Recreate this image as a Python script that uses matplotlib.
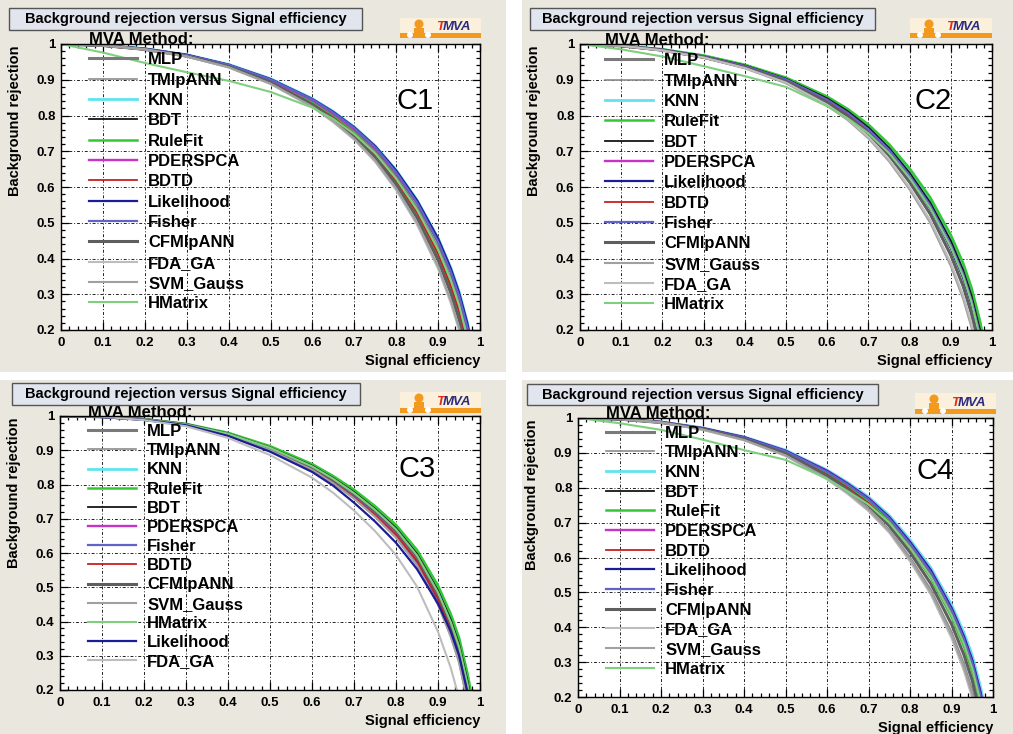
import matplotlib.pyplot as plt
from matplotlib.lines import Line2D
from matplotlib.patches import Rectangle, Ellipse
from matplotlib.ticker import MultipleLocator, FuncFormatter

plt.rcParams['font.family'] = ['Liberation Sans', 'DejaVu Sans']

W, H = 1013, 734

# signal efficiency points where the curves were read
eff = [0, .1, .2, .3, .4, .5, .6, .65, .7, .75, .8, .85, .9, .93, .95, .97, .99]

# background rejection, panel C1
c1_rej = {
    'MLP':        [1, .996, .986, .968, .940, .898, .839, .801, .756, .700, .628, .540, .428, .342, .272, .180, .060],
    'TMlpANN':    [1, .996, .985, .966, .936, .892, .829, .789, .741, .682, .606, .512, .394, .303, .228, .131, .004],
    'KNN':        [1, .996, .987, .970, .943, .903, .847, .811, .768, .715, .647, .563, .457, .375, .308, .221, .107],
    'BDT':        [1, .996, .986, .969, .942, .901, .844, .807, .763, .709, .639, .554, .445, .362, .294, .205, .088],
    'RuleFit':    [1, .996, .986, .967, .938, .895, .834, .795, .749, .691, .617, .526, .411, .322, .250, .155, .032],
    'PDERSPCA':   [1, .996, .986, .969, .941, .900, .843, .806, .763, .710, .641, .557, .449, .366, .297, .207, .090],
    'BDTD':       [1, .995, .984, .965, .936, .893, .832, .794, .748, .691, .618, .528, .413, .324, .252, .157, .034],
    'Likelihood': [1, .996, .987, .970, .942, .902, .846, .810, .767, .714, .646, .562, .456, .373, .305, .218, .104],
    'Fisher':     [1, .996, .986, .969, .942, .901, .845, .808, .765, .711, .641, .556, .447, .364, .296, .207, .090],
    'CFMlpANN':   [1, .996, .985, .966, .937, .893, .830, .790, .742, .683, .607, .514, .396, .305, .230, .133, .006],
    'FDA_GA':     [1, .996, .985, .965, .934, .888, .823, .781, .732, .670, .591, .494, .371, .276, .199, .098, 0],
    'SVM_Gauss':  [1, .996, .985, .965, .935, .889, .825, .784, .735, .674, .596, .500, .378, .284, .207, .106, 0],
    'HMatrix':    [1, .976, .947, .921, .897, .866, .822, .790, .748, .694, .623, .536, .425, .340, .270, .178, .060],
}

# panel C2
c2_rej = {
    'MLP':        [1, .995, .984, .965, .938, .900, .843, .806, .760, .702, .630, .545, .435, .352, .280, .185, .065],
    'TMlpANN':    [1, .995, .983, .963, .935, .895, .835, .796, .748, .687, .612, .522, .407, .320, .244, .144, .018],
    'KNN':        [1, .995, .985, .967, .941, .905, .851, .816, .772, .717, .649, .568, .463, .384, .316, .226, .112],
    'RuleFit':    [1, .995, .985, .968, .942, .906, .853, .818, .775, .720, .652, .571, .466, .387, .319, .229, .115],
    'BDT':        [1, .995, .984, .966, .940, .903, .848, .812, .767, .710, .640, .557, .450, .368, .298, .205, .088],
    'PDERSPCA':   [1, .995, .984, .965, .938, .900, .842, .805, .759, .701, .629, .544, .434, .351, .279, .184, .064],
    'Likelihood': [1, .995, .984, .964, .937, .899, .841, .803, .757, .699, .626, .540, .429, .346, .273, .177, .056],
    'BDTD':       [1, .994, .981, .961, .933, .896, .839, .802, .757, .700, .629, .545, .436, .354, .283, .189, .070],
    'Fisher':     [1, .995, .984, .965, .938, .901, .844, .807, .761, .704, .632, .548, .438, .356, .284, .190, .071],
    'CFMlpANN':   [1, .995, .983, .963, .935, .896, .836, .797, .750, .689, .614, .525, .410, .323, .247, .147, .021],
    'SVM_Gauss':  [1, .995, .982, .962, .932, .890, .827, .787, .736, .672, .593, .500, .379, .287, .208, .104, 0],
    'FDA_GA':     [1, .995, .982, .962, .933, .892, .830, .790, .740, .677, .599, .507, .388, .297, .219, .116, 0],
    'HMatrix':    [1, .985, .965, .938, .910, .880, .826, .792, .750, .695, .625, .541, .432, .350, .278, .183, .063],
}

# panel C3
c3_rej = {
    'MLP':        [1, .998, .990, .975, .947, .905, .850, .813, .770, .720, .662, .585, .475, .388, .315, .205, .070],
    'TMlpANN':    [1, .998, .990, .974, .944, .900, .843, .804, .759, .706, .645, .564, .449, .357, .281, .165, .024],
    'KNN':        [1, .998, .990, .976, .950, .910, .858, .822, .782, .734, .679, .606, .501, .419, .349, .245, .117],
    'RuleFit':    [1, .998, .991, .977, .951, .912, .860, .825, .785, .737, .682, .609, .505, .423, .353, .249, .121],
    'BDT':        [1, .998, .990, .976, .949, .908, .855, .819, .778, .729, .673, .598, .491, .407, .335, .228, .096],
    'PDERSPCA':   [1, .998, .990, .974, .945, .902, .846, .808, .764, .712, .653, .575, .463, .374, .300, .187, .050],
    'Fisher':     [1, .998, .990, .974, .945, .902, .845, .807, .763, .711, .651, .572, .459, .370, .295, .182, .045],
    'BDTD':       [1, .998, .989, .973, .943, .900, .844, .806, .762, .711, .653, .576, .466, .378, .304, .192, .055],
    'CFMlpANN':   [1, .998, .990, .975, .947, .906, .851, .815, .773, .723, .666, .590, .481, .395, .322, .212, .078],
    'SVM_Gauss':  [1, .998, .990, .974, .944, .900, .843, .804, .759, .706, .645, .564, .449, .357, .281, .165, .024],
    'HMatrix':    [1, .998, .990, .975, .948, .907, .853, .817, .775, .726, .669, .593, .485, .399, .327, .218, .085],
    'Likelihood': [1, .997, .989, .973, .942, .896, .837, .797, .747, .692, .630, .553, .452, .372, .302, .195, .065],
    'FDA_GA':     [1, .998, .988, .970, .936, .886, .820, .776, .724, .664, .594, .502, .370, .266, .178, .046, 0],
}

# panel C4
c4_rej = {
    'MLP':        [1, .997, .988, .970, .943, .903, .843, .805, .762, .706, .633, .548, .437, .353, .283, .188, .065],
    'TMlpANN':    [1, .997, .987, .967, .938, .894, .829, .788, .741, .680, .601, .509, .388, .297, .221, .118, 0],
    'KNN':        [1, .997, .989, .972, .946, .908, .851, .815, .774, .721, .651, .571, .465, .385, .319, .229, .112],
    'BDT':        [1, .997, .988, .970, .944, .905, .847, .810, .768, .713, .642, .560, .451, .369, .301, .208, .088],
    'RuleFit':    [1, .997, .988, .969, .942, .902, .841, .803, .759, .702, .628, .542, .430, .345, .274, .177, .052],
    'PDERSPCA':   [1, .997, .989, .971, .945, .906, .849, .812, .770, .716, .645, .564, .456, .374, .306, .214, .094],
    'BDTD':       [1, .996, .987, .968, .940, .899, .838, .800, .756, .700, .628, .545, .435, .352, .282, .187, .064],
    'Likelihood': [1, .997, .988, .971, .945, .906, .848, .811, .769, .715, .644, .563, .455, .373, .305, .213, .093],
    'Fisher':     [1, .997, .988, .970, .944, .905, .846, .809, .767, .712, .640, .558, .450, .367, .298, .205, .084],
    'CFMlpANN':   [1, .997, .987, .969, .940, .898, .835, .795, .750, .691, .615, .525, .409, .321, .247, .147, .018],
    'FDA_GA':     [1, .997, .987, .966, .936, .891, .824, .782, .733, .671, .589, .494, .369, .275, .197, .091, 0],
    'SVM_Gauss':  [1, .997, .987, .967, .937, .893, .827, .786, .737, .676, .595, .501, .378, .285, .208, .103, 0],
    'HMatrix':    [1, .985, .966, .938, .908, .880, .826, .790, .752, .700, .628, .545, .435, .352, .282, .186, .064],
}

panel_tags = ['C1', 'C2', 'C3', 'C4']
title_text = 'Background rejection versus Signal efficiency'

# colour, line width per method
style = {
    'MLP':        ('#7a7a7a', 2.2),
    'TMlpANN':    ('#8c8c8c', 1.2),
    'KNN':        ('#5fe3ee', 2.0),
    'BDT':        ('#151515', 1.3),
    'RuleFit':    ('#33c833', 1.8),
    'PDERSPCA':   ('#c832c8', 1.7),
    'BDTD':       ('#c82020', 1.3),
    'Likelihood': ('#1c1c96', 1.6),
    'Fisher':     ('#6262c8', 1.6),
    'CFMlpANN':   ('#5e5e5e', 2.2),
    'FDA_GA':     ('#bdbdbd', 1.5),
    'SVM_Gauss':  ('#a0a0a0', 1.5),
    'HMatrix':    ('#80cf80', 1.5),
}

# layout in pixels: panel bg, axes, title box, logo box (l, t, r, b); legend (x, top, spacing); tag centre
layout = [
    dict(bg=(0, 0, 506, 372), ax=(61, 44, 480, 330), tb=(9, 8, 362, 30), logo=(400, 18, 481, 38),
         leg=(89, 32, 0.32), tag=(415, 101)),
    dict(bg=(522, 0, 1013, 372), ax=(580, 44, 992, 330), tb=(530, 8, 875, 30), logo=(910, 18, 992, 38),
         leg=(605, 33, 0.32), tag=(933, 101)),
    dict(bg=(0, 380, 506, 734), ax=(60, 416, 480, 690), tb=(12, 383, 360, 405), logo=(400, 392, 481, 413),
         leg=(88, 405, 0.25), tag=(417, 469)),
    dict(bg=(522, 380, 1013, 734), ax=(578, 418, 993, 697), tb=(527, 384, 878, 405), logo=(915, 393, 996, 414),
         leg=(606, 406, 0.28), tag=(935, 471)),
]

BG = '#e9e7de'

fig = plt.figure(figsize=(W / 100, H / 100), dpi=100)


def fx(x):
    return x / W


def fy(y):
    return 1 - y / H


def rect(l, t, r, b, **kw):
    p = Rectangle((fx(l), fy(b)), (r - l) / W, (b - t) / H, transform=fig.transFigure, **kw)
    fig.patches.append(p)
    return p


def draw_logo(l, t, r, b):
    rect(l, t, r, b, facecolor='#fbf0dc', edgecolor='none', zorder=1)
    rect(l, b - 5, r, b, facecolor='#f29a1e', edgecolor='none', zorder=2)
    fig.patches.append(Ellipse((fx(l + 19), fy(t + 6)), 9 / W, 9 / H, transform=fig.transFigure,
                               facecolor='#f29a1e', edgecolor='none', zorder=2))
    rect(l + 14, t + 10, l + 24, b - 5, facecolor='#f29a1e', edgecolor='none', zorder=2)
    for dx in (10, 28):
        fig.patches.append(Ellipse((fx(l + dx), fy(b - 3)), 6 / W, 6 / H, transform=fig.transFigure,
                                   facecolor='white', edgecolor='none', zorder=3))
    fig.text(fx(l + 36), fy(b - 11), 'T', color='#e02a1a', fontsize=9.5, fontweight='bold',
             style='italic', ha='left', va='center')
    fig.text(fx(l + 43), fy(b - 11), 'MVA', color='#2b2b80', fontsize=9.5, fontweight='bold',
             style='italic', ha='left', va='center')


tick_fmt = FuncFormatter(lambda v, p: f'{round(v, 2):g}')

for data, tag, lay in zip([c1_rej, c2_rej, c3_rej, c4_rej], panel_tags, layout):
    rect(*lay['bg'], facecolor=BG, edgecolor='none', zorder=-5)

    l, t, r, b = lay['ax']
    ax = fig.add_axes([fx(l), fy(b), (r - l) / W, (b - t) / H])
    ax.set_facecolor('white')

    for name, rej in data.items():
        col, lw = style[name]
        ax.plot(eff, rej, color=col, lw=lw, solid_joinstyle='round')

    ax.set_xlim(0, 1)
    ax.set_ylim(0.2, 1)
    ax.xaxis.set_major_locator(MultipleLocator(0.1))
    ax.xaxis.set_minor_locator(MultipleLocator(0.02))
    ax.yaxis.set_major_locator(MultipleLocator(0.1))
    ax.yaxis.set_minor_locator(MultipleLocator(0.02))
    ax.xaxis.set_major_formatter(tick_fmt)
    ax.yaxis.set_major_formatter(tick_fmt)
    ax.tick_params(which='both', direction='in', top=True, right=True, width=0.9, color='black')
    ax.tick_params(which='major', length=6)
    ax.tick_params(which='minor', length=3)
    ax.tick_params(axis='x', pad=5)
    ax.tick_params(axis='y', pad=4)
    for lbl in ax.get_xticklabels() + ax.get_yticklabels():
        lbl.set_fontsize(9.5)
        lbl.set_fontweight('bold')
    ax.grid(True, which='major', color='#222222', lw=0.7, linestyle=(0, (3, 2, 1, 2)))
    for s in ax.spines.values():
        s.set_linewidth(1.0)

    # legend
    handles = [Line2D([], [], color=style[n][0], lw=style[n][1]) for n in data]
    lx, ltop, lsp = lay['leg']
    ax.legend(handles, list(data.keys()), loc='upper left', bbox_to_anchor=(fx(lx), fy(ltop)),
              bbox_transform=fig.transFigure, frameon=False, title='MVA Method:', alignment='left',
              prop=dict(size=12, weight='bold'), title_fontproperties=dict(size=12, weight='bold'),
              handlelength=2.9, handletextpad=0.65, labelspacing=lsp, borderpad=0, borderaxespad=0)

    # panel tag
    tx, ty = lay['tag']
    fig.text(fx(tx), fy(ty), tag, fontsize=21, ha='center', va='center')

    # axis titles
    fig.text(fx(r), fy(b + 31), 'Signal efficiency', fontsize=10.5, fontweight='bold', ha='right', va='center')
    fig.text(fx(l - 46), fy(t + 1), 'Background rejection', fontsize=10.5, fontweight='bold',
             rotation=90, ha='center', va='top')

    # title box
    tl, tt, tr, tbm = lay['tb']
    rect(tl, tt, tr, tbm, facecolor='#e1e5ee', edgecolor='#555555', lw=1.0, zorder=1)
    fig.text(fx((tl + tr) / 2), fy((tt + tbm) / 2), title_text, fontsize=10.5, fontweight='bold',
             ha='center', va='center')

    draw_logo(*lay['logo'])

fig.savefig('out.png', dpi=100, facecolor='white')
